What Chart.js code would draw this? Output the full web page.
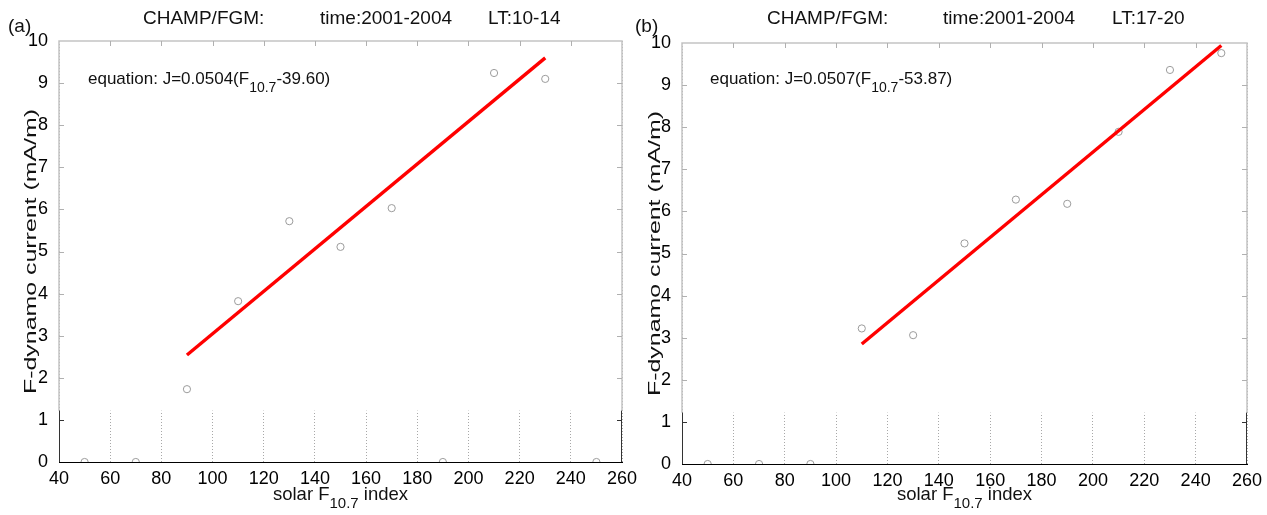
<!DOCTYPE html>
<html>
<head>
<meta charset="utf-8">
<script src="https://cdn.jsdelivr.net/npm/chart.js@4/dist/chart.umd.min.js"></script>
<style>
  body { margin: 0; background: #fff; }
  #wrap { position: relative; width: 1267px; height: 515px; overflow: hidden; }
  canvas { position: absolute; top: 0; }
</style>
</head>
<body>
<div id="wrap">
  <canvas id="chart-a" width="648" height="515" style="left:0"></canvas>
  <canvas id="chart-b" width="637" height="515" style="left:630px"></canvas>
</div>
<script>
const FONT = '"Liberation Sans", Arial, Helvetica, sans-serif';

// tick values shared by both panels
const xTicks = [40, 60, 80, 100, 120, 140, 160, 180, 200, 220, 240, 260];
const yTicks = [0, 1, 2, 3, 4, 5, 6, 7, 8, 9, 10];

// panel (a) LT 10-14
const fluxA = [50, 70, 90, 110, 130, 150, 170, 190, 210, 230, 250];
const currentA = [0, 0, 1.73, 3.82, 5.72, 5.11, 6.03, 0, 9.24, 9.10, 0];
const fitFluxA = [90, 230];
const fitCurrentA = [2.54, 9.60];

// panel (b) LT 17-20
const fluxB = [50, 70, 90, 110, 130, 150, 170, 190, 210, 230, 250];
const currentB = [0, 0, 0, 3.22, 3.06, 5.24, 6.28, 6.18, 7.89, 9.36, 9.76];
const fitFluxB = [110, 250];
const fitCurrentB = [2.85, 9.94];

function runsWidth(ctx, runs, size) {
  let w = 0;
  for (const [text, sub] of runs) {
    ctx.font = `${sub ? Math.round(size * 0.8) : size}px ${FONT}`;
    w += ctx.measureText(text).width;
  }
  return w;
}

function drawRuns(ctx, x, y, runs, size) {
  let cx = x;
  for (const [text, sub] of runs) {
    ctx.font = `${sub ? Math.round(size * 0.8) : size}px ${FONT}`;
    ctx.fillText(text, cx, sub ? y + size * 0.45 : y);
    cx += ctx.measureText(text).width;
  }
}

// MATLAB-like box: light grey in the upper part, black with dotted grid below
const frame = {
  id: "frame",
  beforeDatasetsDraw(chart, args, opts) {
    const { ctx, chartArea: a, scales: { x, y } } = chart;
    const split = y.getPixelForValue(opts.split);
    ctx.save();
    ctx.fillStyle = "#fff";
    ctx.fillRect(a.left + 1, a.top, a.right - a.left - 2, split - a.top);

    ctx.lineWidth = 1.5;
    ctx.strokeStyle = "#c4c4c4";
    ctx.beginPath();
    ctx.moveTo(a.left, split);
    ctx.lineTo(a.left, a.top);
    ctx.lineTo(a.right, a.top);
    ctx.lineTo(a.right, split);
    ctx.stroke();

    ctx.lineWidth = 1;
    ctx.strokeStyle = "#333";
    ctx.beginPath();
    ctx.moveTo(a.left + 0.5, split);
    ctx.lineTo(a.left + 0.5, a.bottom);
    ctx.moveTo(a.right - 0.5, split);
    ctx.lineTo(a.right - 0.5, a.bottom);
    ctx.stroke();

    ctx.strokeStyle = "#b0b0b0";
    ctx.beginPath();
    for (const v of xTicks.slice(1, -1)) {
      const px = Math.round(x.getPixelForValue(v)) + 0.5;
      ctx.moveTo(px, a.top);
      ctx.lineTo(px, a.top + 5);
    }
    ctx.stroke();

    for (const v of yTicks.slice(1, -1)) {
      const py = Math.round(y.getPixelForValue(v)) + 0.5;
      ctx.strokeStyle = py > split ? "#333" : "#b0b0b0";
      ctx.beginPath();
      ctx.moveTo(a.left, py);
      ctx.lineTo(a.left + 5, py);
      ctx.moveTo(a.right, py);
      ctx.lineTo(a.right - 5, py);
      ctx.stroke();
    }
    ctx.restore();
  },
  afterDraw(chart, args, opts) {
    const { ctx, chartArea: a } = chart;
    ctx.save();
    ctx.fillStyle = "#111";
    ctx.textBaseline = "alphabetic";
    ctx.textAlign = "left";

    ctx.font = `19px ${FONT}`;
    ctx.fillText(opts.label, opts.labelX, 32);
    opts.title.forEach(([text, px]) => ctx.fillText(text, px, 24));

    drawRuns(ctx, opts.eqX, 84, opts.equation, 17);

    const xRuns = [["solar F", false], ["10.7", true], [" index", false]];
    const xw = runsWidth(ctx, xRuns, 18.5);
    drawRuns(ctx, (a.left + a.right) / 2 - xw / 2, 500, xRuns, 18.5);

    ctx.translate(opts.yTitleX, (a.top + a.bottom) / 2);
    ctx.rotate(-Math.PI / 2);
    ctx.font = `16px ${FONT}`;
    ctx.textAlign = "center";
    ctx.textBaseline = "middle";
    const yt = "F-dynamo current (mA/m)";
    ctx.scale(285 / ctx.measureText(yt).width, 1);
    ctx.fillText(yt, 0, 0);
    ctx.restore();
  },
};

function makeChart(canvasId, cfg) {
  return new Chart(document.getElementById(canvasId), {
    type: "scatter",
    data: {
      datasets: [
        {
          label: "fit",
          type: "line",
          showLine: true,
          data: cfg.fitX.map((v, i) => ({ x: v, y: cfg.fitY[i] })),
          borderColor: "#ff0000",
          borderWidth: 3.4,
          pointRadius: 0,
          fill: false,
          order: 0,
        },
        {
          label: "obs",
          data: cfg.x.map((v, i) => ({ x: v, y: cfg.y[i] })),
          pointStyle: "circle",
          pointRadius: 3.6,
          pointBorderWidth: 1,
          borderColor: "#9c9c9c",
          backgroundColor: "rgba(0,0,0,0)",
          order: 1,
        },
      ],
    },
    options: {
      responsive: false,
      animation: false,
      layout: { padding: { top: cfg.top, right: cfg.right, left: 0, bottom: 0 } },
      plugins: {
        legend: { display: false },
        tooltip: { enabled: false },
        frame: cfg.text,
      },
      scales: {
        x: {
          type: "linear",
          min: 40,
          max: 260,
          afterBuildTicks: (s) => { s.ticks = xTicks.map((v) => ({ value: v })); },
          afterFit: (s) => { s.height = cfg.bottom; s.paddingLeft = 0; s.paddingRight = 0; },
          grid: { color: "#a8a8a8", drawTicks: false, lineWidth: 1 },
          border: { display: true, color: "#000", width: 1, dash: [1, 2] },
          ticks: { color: "#000", font: { family: FONT, size: 18 }, padding: 6, maxRotation: 0, autoSkip: false },
        },
        y: {
          min: 0,
          max: 10,
          afterBuildTicks: (s) => { s.ticks = yTicks.map((v) => ({ value: v })); },
          afterFit: (s) => { s.width = cfg.left; s.paddingTop = 0; s.paddingBottom = 0; },
          grid: { display: false },
          border: { display: false },
          ticks: { color: "#000", font: { family: FONT, size: 18 }, padding: 3 },
        },
      },
    },
    plugins: [frame],
  });
}

makeChart("chart-a", {
  x: fluxA, y: currentA, fitX: fitFluxA, fitY: fitCurrentA,
  left: 59, right: 26, top: 41, bottom: 53,
  text: {
    split: 1.22,
    label: "(a)", labelX: 8,
    title: [["CHAMP/FGM:", 143], ["time:2001-2004", 320], ["LT:10-14", 488]],
    eqX: 88,
    equation: [["equation: J=0.0504(F", false], ["10.7", true], ["-39.60)", false]],
    yTitleX: 32,
  },
});

makeChart("chart-b", {
  x: fluxB, y: currentB, fitX: fitFluxB, fitY: fitCurrentB,
  left: 52, right: 20, top: 43, bottom: 51,
  text: {
    split: 1.22,
    label: "(b)", labelX: 5,
    title: [["CHAMP/FGM:", 137], ["time:2001-2004", 313], ["LT:17-20", 482]],
    eqX: 80,
    equation: [["equation: J=0.0507(F", false], ["10.7", true], ["-53.87)", false]],
    yTitleX: 26,
  },
});
</script>
</body>
</html>
